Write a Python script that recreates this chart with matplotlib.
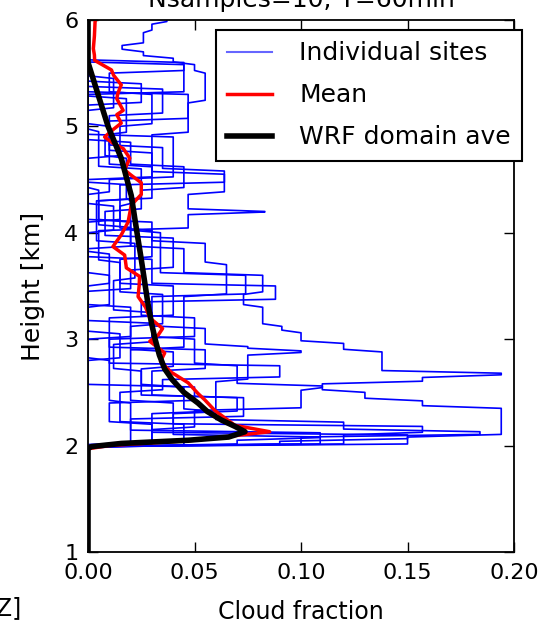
import matplotlib
matplotlib.use('Agg')
import matplotlib.pyplot as plt
from matplotlib.lines import Line2D

# individual sites: layer edges [km] and cloud fraction within each layer
site_edges = [
    [1.0, 1.99, 2.15, 2.33, 2.52, 2.58, 2.64, 2.68, 2.88, 2.96, 3.06, 3.12, 3.3, 3.42, 3.6, 3.85, 4.1, 4.4, 6.0],
    [1.0, 1.99, 2.08, 2.35, 2.42, 2.5, 2.56, 2.75, 3.0, 3.25, 3.55, 3.9, 4.3, 4.62, 5.0, 6.0],
    [1.0, 1.99, 2.08, 2.13, 2.22, 2.32, 2.55, 2.72, 2.88, 3.12, 3.42, 3.72, 4.02, 4.17, 4.2, 4.36, 4.55, 4.92,
     5.22, 5.5, 5.58, 5.64, 5.7, 5.76, 5.88, 5.96, 6.0],
    [1.0, 1.99, 2.1, 2.18, 2.4, 2.9, 3.4, 3.7, 3.9, 4.1, 4.36, 4.5, 4.9, 5.3, 5.58, 6.0],
    [1.0, 1.99, 2.04, 2.1, 2.3, 2.6, 2.85, 2.89, 2.93, 3.1, 3.4, 3.6, 4.0, 4.3, 4.7, 4.92, 5.26, 6.0],
    [1.0, 1.99, 2.05, 2.12, 2.4, 2.8, 3.0, 3.3, 3.5, 3.8, 4.1, 4.45, 4.58, 4.8, 5.1, 5.35, 6.0],
    [1.0, 1.98, 2.2, 2.5, 2.62, 2.75, 3.0, 3.2, 3.35, 3.5, 3.75, 4.0, 4.25, 4.5, 4.75, 5.05, 5.3, 6.0],
    [1.0, 2.0, 2.25, 2.45, 2.7, 2.95, 3.15, 3.45, 3.65, 3.95, 4.2, 4.4, 4.62, 4.85, 5.15, 5.45, 6.0],
    [1.0, 2.01, 2.2, 2.4, 2.55, 2.8, 3.05, 3.3, 3.6, 3.85, 4.05, 4.3, 4.6, 4.95, 5.2, 5.4, 6.0],
    [1.0, 1.99, 2.08, 2.3, 2.45, 2.7, 2.9, 3.2, 3.5, 3.75, 4.02, 4.25, 4.45, 4.7, 5.0, 5.3, 5.5, 5.6, 6.0],
]
site_cf = [
    [0, 0.03, 0.05, 0.1, 0.11, 0.157, 0.194, 0.138, 0.12, 0.1, 0.091, 0.082, 0.073, 0.082, 0.045, 0.02, 0.005, 0],
    [0, 0.15, 0.194, 0.157, 0.13, 0.11, 0.07, 0.05, 0.03, 0.012, 0.022, 0.004, 0.03, 0.01, 0],
    [0, 0.1, 0.184, 0.12, 0.06, 0.045, 0.025, 0.04, 0.02, 0.035, 0.015, 0.005, 0.047, 0.083, 0.047, 0.064,
     0.03, 0.047, 0.055, 0.05, 0.04, 0.026, 0.016, 0.026, 0.03, 0.037],
    [0, 0.12, 0.157, 0.04, 0.02, 0.045, 0.065, 0.055, 0.03, 0.0, 0.01, 0.04, 0.0, 0.045, 0],
    [0, 0.09, 0.15, 0.03, 0.06, 0.075, 0.1, 0.075, 0.055, 0.03, 0.074, 0.034, 0.02, 0.018, 0.008, 0.018, 0],
    [0, 0.07, 0.109, 0.02, 0.01, 0.0, 0.02, 0.0, 0.01, 0.0, 0.015, 0.064, 0.035, 0.01, 0.035, 0],
    [0, 0.045, 0.015, 0.035, 0.09, 0.01, 0.05, 0.025, 0.088, 0.03, 0.0, 0.012, 0.0, 0.03, 0.01, 0.047, 0],
    [0, 0.02, 0.073, 0.025, 0.012, 0.03, 0.0, 0.02, 0.04, 0.008, 0.025, 0.045, 0.02, 0.0, 0.012, 0],
    [0, 0.03, 0.01, 0.05, 0.0, 0.015, 0.0, 0.01, 0.0, 0.02, 0.005, 0.025, 0.005, 0.0, 0.025, 0],
    [0, 0.109, 0.04, 0.07, 0.03, 0.055, 0.01, 0.04, 0.015, 0.03, 0.015, 0.02, 0.0, 0.015, 0.03, 0.01, 0.045, 0],
]

# mean of sites
mean_z = [1.0, 1.97, 2.0, 2.05, 2.13, 2.19, 2.33, 2.43, 2.49, 2.59, 2.69, 2.79, 2.87, 2.98, 3.04, 3.1, 3.2,
          3.3, 3.4, 3.5, 3.59, 3.67, 3.79, 3.87, 3.98, 4.1, 4.26, 4.36, 4.47, 4.54, 4.59, 4.7, 4.79, 4.84,
          4.9, 4.97, 5.03, 5.11, 5.15, 5.26, 5.31, 5.39, 5.48, 5.53, 5.62, 5.67, 5.73, 5.85, 5.98, 6.0]
mean_cf = [0, 0, 0.01, 0.05, 0.0853, 0.069, 0.0595, 0.0548, 0.0516, 0.047, 0.039, 0.034, 0.036, 0.029, 0.033,
           0.035, 0.029, 0.027, 0.0235, 0.024, 0.0242, 0.018, 0.0172, 0.0117, 0.0156, 0.0188, 0.0203, 0.025,
           0.025, 0.0203, 0.0172, 0.0196, 0.0166, 0.0118, 0.0078, 0.0118, 0.0156, 0.0135, 0.0165, 0.0135,
           0.014, 0.0156, 0.012, 0.011, 0.0031, 0.003, 0.0025, 0.003, 0.0033, 0.0035]

# WRF domain average
wrf_z = [1.0, 1.97, 1.99, 2.02, 2.05, 2.08, 2.13, 2.18, 2.24, 2.32, 2.40, 2.50, 2.62, 2.72, 2.85, 3.0, 3.15,
         3.35, 3.55, 3.75, 4.0, 4.35, 4.7, 5.0, 5.3, 5.6, 6.0]
wrf_cf = [0, 0, 0.0015, 0.0156, 0.047, 0.066, 0.0737, 0.069, 0.0626, 0.056, 0.0516, 0.045, 0.0395, 0.036,
          0.0335, 0.0315, 0.0298, 0.028, 0.0265, 0.025, 0.023, 0.0203, 0.0156, 0.0094, 0.0047, 0.0, 0.0]

xticks = [0.0, 0.05, 0.10, 0.15, 0.20]
yticks = [1, 2, 3, 4, 5, 6]


def layer_line(edges, vals, dz=0.025):
    z = [edges[0]]
    x = [vals[0]]
    for i, v in enumerate(vals):
        z += [edges[i] + dz, edges[i + 1]]
        x += [v, v]
    return x, z


fig = plt.figure(figsize=(5.42, 6.23), dpi=100)
ax = fig.add_axes([0.1624, 0.114, 0.7860, 0.854])

for e, c in zip(site_edges, site_cf):
    x, z = layer_line(e, c)
    ax.plot(x, z, color='b', lw=1.2)
ax.plot(mean_cf, mean_z, color='r', lw=2.5)
ax.plot(wrf_cf, wrf_z, color='k', lw=4)

ax.set_xlim(0, 0.2)
ax.set_ylim(1, 6)
ax.set_xticks(xticks)
ax.set_xticklabels(['%.2f' % t for t in xticks])
ax.set_yticks(yticks)
ax.tick_params(direction='in', top=True, right=True, length=7, width=1, labelsize=16)
ax.tick_params(axis='x', pad=8)
ax.tick_params(axis='y', pad=7)
for s in ax.spines.values():
    s.set_linewidth(1.3)

ax.set_xlabel('Cloud fraction', fontsize=17, labelpad=12)
ax.set_ylabel('Height [km]', fontsize=18, labelpad=14)
ax.set_title('Nsamples=10, T=60min', fontsize=18, pad=9)

handles = [Line2D([], [], color='b', lw=1.5, alpha=0.6),
           Line2D([], [], color='r', lw=2.5),
           Line2D([], [], color='k', lw=4)]
leg = ax.legend(handles, ['Individual sites', 'Mean', 'WRF domain ave'], loc='upper right',
                bbox_to_anchor=(1.019, 0.981), borderaxespad=0, fontsize=18, fancybox=False,
                framealpha=1, edgecolor='k', handlelength=1.8, handletextpad=1.1, labelspacing=0.72,
                borderpad=0.45)
leg.get_frame().set_linewidth(1.5)

fig.text(21 / 542, 0.012, 'Z]', fontsize=17, ha='right', va='baseline')

fig.savefig('out.png', dpi=100)
